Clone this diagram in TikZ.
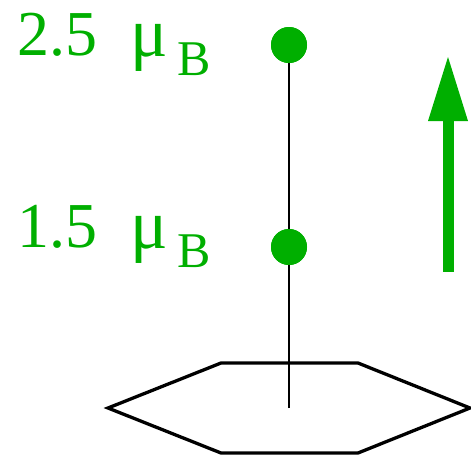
\documentclass[tikz,border=0pt]{standalone}
\usepackage{fontspec}
\setmainfont{Liberation Serif}
\definecolor{mgreen}{RGB}{0,175,0}
\begin{document}
\begin{tikzpicture}[x=1pt,y=-1pt,
  lbl/.style={text=mgreen,inner sep=0pt,anchor=base west,font=\fontsize{64}{70}\selectfont},
  mu/.style={text=mgreen,inner sep=0pt,anchor=base west,font=\fontsize{70}{76}\selectfont},
  sub/.style={text=mgreen,inner sep=0pt,anchor=base west,font=\fontsize{50}{56}\selectfont},
  atom/.style={circle,fill=mgreen,minimum size=36pt,inner sep=0pt}]
\useasboundingbox (0,0) rectangle (471,459);
% hexagon
\draw[line width=3.3pt,line join=miter] (108,408) -- (221,363) -- (358,363) -- (470,408) -- (358,453) -- (221,453) -- cycle;
\coordinate (base) at (289,408);
\node[atom] (a1) at (289,45) {};
\node[atom] (a2) at (289,247) {};
\draw[line width=1.2pt] (base) -- (a2.center);
\draw[line width=1.2pt] (a2) -- (a1.center);
\node[atom] at (289,45) {};
\node[atom] at (289,247) {};
% labels
\node[lbl] (t1) at (17,55) {2.5};
\node[mu] (m1) at (130,56) {μ};
\node[sub] (b1) at (177,75) {B};
\node[lbl] (t2) at (17,247) {1.5};
\node[mu] (m2) at (130,248) {μ};
\node[sub] (b2) at (177,267) {B};
% arrow
\coordinate (ab) at (448,272);
\coordinate (at) at (448,121);
\fill[mgreen] (442.5,272) rectangle (453.5,118);
\fill[mgreen] (428,121) -- (448,57) -- (468,121) -- cycle;
\end{tikzpicture}
\end{document}
